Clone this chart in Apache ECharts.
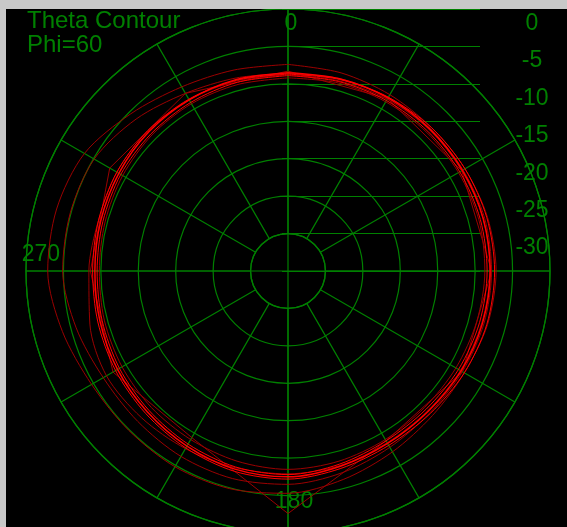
<!DOCTYPE html>
<html><head><meta charset="utf-8">
<script src="https://cdn.jsdelivr.net/npm/echarts@6/dist/echarts.min.js"></script>
<style>
html,body{margin:0;padding:0;background:#c8c8c8;width:567px;height:527px;overflow:hidden}
#c{position:absolute;left:6px;top:9px;width:561px;height:518px;background:#000}
</style></head><body><div id="c"></div>
<script>
// ---- data (dB vs. theta in degrees) ----
const titleText = 'Theta Contour';
const subText = 'Phi=60';
const angles15 = [0,15,30,45,60,75,90,105,120,135,150,165,180,195,210,225,240,255,270,285,300,315,330,345];
const angles30 = [0,30,60,90,120,150,180,210,240,270,300,330];
const dbTicks = [0,-5,-10,-15,-20,-25,-30];
const angleLabels = [0,180,270];

const bright1 = [-8.5,-8.4,-8.3,-8.2,-8.1,-8.0,-8.0,-8.1,-8.3,-8.5,-8.4,-8.0,-7.5,-7.6,-8.0,-8.4,-8.7,-9.0,-9.2,-9.1,-8.9,-8.7,-8.6,-8.5];
const bright2 = [-8.9,-8.8,-8.7,-8.6,-8.5,-8.4,-8.4,-8.5,-8.7,-8.9,-8.8,-8.3,-7.8,-7.9,-8.3,-8.7,-9.0,-9.3,-9.5,-9.4,-9.2,-9.1,-9.0,-8.9];
const bright3 = [-8.7,-8.5,-8.2,-7.9,-7.7,-7.5,-7.4,-7.5,-7.8,-8.1,-8.1,-7.7,-7.2,-7.3,-7.7,-8.1,-8.4,-8.7,-8.9,-8.8,-8.6,-8.5,-8.5,-8.6];
const dark1 = [-7.4,-7.6,-7.8,-7.9,-7.7,-7.4,-7.2,-7.4,-7.8,-7.7,-7.1,-6.2,-5.3,-4.9,-4.8,-4.9,-4.7,-3.8,-2.9,-3.0,-3.6,-5.3,-6.6,-7.2];
const dark2 = [-8.6,-8.4,-8.2,-8.1,-8.0,-7.8,-7.8,-7.9,-8.1,-8.2,-7.8,-7.1,-6.5,-6.3,-6.4,-6.6,-6.5,-5.7,-4.9,-4.9,-5.1,-6.3,-7.6,-8.3];
const dark3 = [-8.8,-8.7,-8.5,-8.3,-8.2,-8.0,-8.0,-8.2,-8.4,-8.6,-8.5,-8.1,-7.9,-7.8,-7.6,-7.3,-7.0,-7.6,-8.4,-8.8,-8.6,-8.5,-8.6,-8.7];
const dark4 = [-9.2,-9.0,-8.9,-8.8,-8.7,-8.6,-8.7,-8.9,-9.1,-9.2,-9.0,-8.7,-8.5,-8.7,-9.0,-9.2,-9.4,-9.6,-9.8,-9.7,-9.5,-9.3,-9.2,-9.2];
const darkV = [-8.3,-8.4,-8.2,-7.8,-8.1,-8.8,-2.6,-9.3,-8.0,-8.6,-7.5,-7.6];

// ---- layout / style ----
const GREEN = '#008000';
const CX = 282, CY = 262, R = 262, R0 = R / 7;
const FONT = "'Liberation Sans', Arial, sans-serif";
const GRID_LINE = { color: GREEN, width: 1.2 };

function closed(vals, angs) {
  const d = vals.map((v, i) => [v, angs[i]]);
  d.push([vals[0], 360]);
  return d;
}
function line(name, vals, angs, color, width, smooth) {
  return {
    name, type: 'line', coordinateSystem: 'polar', polarIndex: 0,
    data: closed(vals, angs), showSymbol: false, symbol: 'none', smooth: smooth,
    lineStyle: { color, width }, animation: false, silent: true
  };
}

const chart = echarts.init(document.getElementById('c'), null, { renderer: 'canvas' });
chart.setOption({
  backgroundColor: '#000',
  animation: false,
  title: {
    text: titleText + '\n' + subText,
    left: 21, top: 0, padding: 0,
    textStyle: { color: GREEN, fontSize: 24, fontWeight: 'normal', fontFamily: FONT, lineHeight: 24 }
  },
  polar: [
    { center: [CX, CY], radius: [R0, R] },
    { center: [CX, CY], radius: [0, R] }
  ],
  angleAxis: [
    {
      polarIndex: 0, type: 'value', min: 0, max: 360, interval: 30,
      startAngle: 90, clockwise: true,
      axisLine: { show: true, lineStyle: GRID_LINE },
      axisTick: { show: false },
      splitLine: { show: true, lineStyle: GRID_LINE },
      axisLabel: {
        show: true, margin: -34, color: GREEN, fontSize: 23, fontFamily: FONT,
        formatter: function (v) {
          if (angleLabels.indexOf(v) < 0) return '';
          if (v === 0) return '{t|' + v + '}';
          if (v === 180) return '{b|' + v + '}';
          return '{l|' + v + '}';
        },
        rich: {
          t: { color: GREEN, fontSize: 23, fontFamily: FONT, padding: [0, 0, 8, 6] },
          b: { color: GREEN, fontSize: 23, fontFamily: FONT, lineHeight: 6, padding: [0, 0, 0, 12] },
          l: { color: GREEN, fontSize: 23, fontFamily: FONT, padding: [0, 0, 32, 0] }
        }
      }
    },
    {
      polarIndex: 1, type: 'value', min: 0, max: 360, interval: 90,
      startAngle: 90, clockwise: true,
      axisLine: { show: false }, axisTick: { show: false }, axisLabel: { show: false },
      splitLine: { show: true, lineStyle: GRID_LINE }
    }
  ],
  radiusAxis: [
    {
      polarIndex: 0, type: 'value', min: -30, max: 0, interval: 5,
      axisLine: { show: false }, axisTick: { show: false }, axisLabel: { show: false },
      splitLine: { show: true, lineStyle: GRID_LINE }
    },
    { polarIndex: 1, type: 'value', min: 0, max: 1, show: false }
  ],
  grid: { left: 276, right: 87, top: CY - R, height: R },
  xAxis: { type: 'value', min: 0, max: 1, show: false },
  yAxis: {
    type: 'value', position: 'right', min: -35, max: 0, interval: 5,
    axisLine: { show: false }, axisTick: { show: false },
    splitLine: { show: true, lineStyle: GRID_LINE },
    axisLabel: {
      color: GREEN, fontSize: 23, fontFamily: FONT, margin: 52, align: 'center',
      verticalAlign: 'top', padding: [3, 0, 0, 0],
      formatter: function (v) { return dbTicks.indexOf(v) >= 0 ? String(v) : ''; }
    }
  },
  series: [
    line('dark4', dark4, angles15, '#9a0000', 1, 0.3),
    line('darkV', darkV, angles30, '#9a0000', 1, false),
    line('dark3', dark3, angles15, '#9a0000', 1, 0.3),
    line('dark2', dark2, angles15, '#9a0000', 1, 0.3),
    line('dark1', dark1, angles15, '#9a0000', 1, 0.3),
    line('bright2', bright2, angles15, '#ff0000', 1, 0.3),
    line('bright3', bright3, angles15, '#ff0000', 1, 0.3),
    line('bright1', bright1, angles15, '#ff0000', 1.5, 0.3)
  ]
});
</script></body></html>
